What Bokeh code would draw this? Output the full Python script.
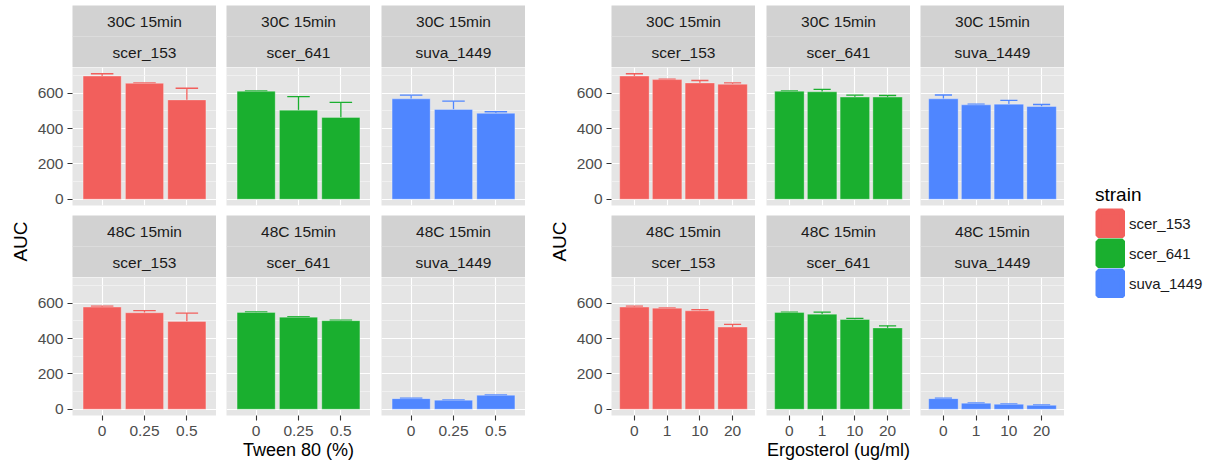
import math
from bokeh.plotting import figure
from bokeh.layouts import row, column
from bokeh.models import (FactorRange, Range1d, FixedTicker, Whisker, TeeHead,
                          ColumnDataSource, Span, Legend, LegendItem)
from bokeh.core.properties import value
from bokeh.embed import file_html
from bokeh.resources import INLINE

# ---------------- data ----------------
strains = ["scer_153", "scer_641", "suva_1449"]
conditions = ["30C 15min", "48C 15min"]
strain_colors = ["#F25F5C", "#1AAF2F", "#4F86FF"]

tween_levels = ["0", "0.25", "0.5"]
ergo_levels = ["0", "1", "10", "20"]

# mean AUC per strain (rows follow `strains`)
tween_30c_mean = [[697, 656, 562], [611, 504, 463], [568, 508, 486]]
tween_30c_se = [[13, 2, 66], [2, 77, 85], [21, 47, 9]]
tween_48c_mean = [[578, 546, 497], [548, 521, 501], [60, 51, 79]]
tween_48c_se = [[6, 12, 47], [3, 3, 3], [2, 2, 2]]

ergo_30c_mean = [[697, 677, 658, 651], [611, 608, 578, 578], [568, 534, 538, 525]]
ergo_30c_se = [[13, 2, 14, 7], [2, 14, 11, 9], [22, 4, 21, 11]]
ergo_48c_mean = [[578, 572, 557, 465], [548, 538, 508, 460], [60, 34, 28, 22]]
ergo_48c_se = [[6, 2, 6, 15], [2, 12, 6, 12], [2, 2, 2, 2]]

tween_title = "Tween 80 (%)"
ergo_title = "Ergosterol (ug/ml)"
y_title = "AUC"
legend_title = "strain"
y_ticks = [0, 200, 400, 600]
y_minor = [100, 300, 500, 700]

# ---------------- style ----------------
FONT = "Liberation Sans"
PANEL_BG = "#E5E5E5"
STRIP_BG = "#D2D2D2"
TICK_COL = "#4D4D4D"
FW, FH = 144, 138
STRIP_H = 62
TOP_PAD = 5
GAP = 10
TXT = "15.5px"

all_upper = []
for M, S in [(tween_30c_mean, tween_30c_se), (tween_48c_mean, tween_48c_se),
             (ergo_30c_mean, ergo_30c_se), (ergo_48c_mean, ergo_48c_se)]:
    for mm, ss in zip(M, S):
        all_upper += [a + b for a, b in zip(mm, ss)]
YMAX = max(all_upper)
Y_LO, Y_HI = -0.05 * YMAX, 1.05 * YMAX


def base_fig(**kw):
    return figure(output_backend="svg", toolbar_location=None, tools="",
                  outline_line_color=None, border_fill_color="white", **kw)


def make_strip(cond, strain, border_left, top_pad):
    s = base_fig(frame_width=FW, frame_height=STRIP_H, x_range=Range1d(0, 1),
                 y_range=Range1d(0, 2), x_axis_location=None, y_axis_location=None,
                 background_fill_color=STRIP_BG, min_border_left=border_left,
                 min_border_right=0, min_border_top=top_pad, min_border_bottom=0)
    s.xgrid.visible = False
    s.ygrid.visible = False
    s.add_layout(Span(location=1, dimension="width", line_color="#DCDCDC", line_width=1))
    s.text(x=[0.5, 0.5], y=[1.5, 0.5], text=[cond, strain], text_align="center",
           text_baseline="middle", text_font=value(FONT), text_font_size=TXT,
           text_color="#1A1A1A")
    return s


def make_panel(levels, means, ses, color, border_left, first_col, bottom_row, xlabel=None):
    p = base_fig(frame_width=FW, frame_height=FH,
                 x_range=FactorRange(factors=levels, range_padding=0.2,
                                     range_padding_units="absolute"),
                 y_range=Range1d(Y_LO, Y_HI),
                 x_axis_location="below" if bottom_row else None,
                 y_axis_location="left" if first_col else None,
                 background_fill_color=PANEL_BG, min_border_left=border_left,
                 min_border_right=0, min_border_top=0,
                 min_border_bottom=0 if bottom_row else GAP)
    p.ygrid.ticker = FixedTicker(ticks=y_ticks, minor_ticks=y_minor)
    p.ygrid.grid_line_color = "white"
    p.ygrid.grid_line_width = 1.1
    p.ygrid.minor_grid_line_color = "#F3F3F3"
    p.ygrid.minor_grid_line_width = 0.8
    p.xgrid.grid_line_color = "white"
    p.xgrid.grid_line_width = 1.1

    src = ColumnDataSource(dict(x=levels, top=means,
                                upper=[m + s for m, s in zip(means, ses)]))
    cap = 0.5 * FW / (len(levels) + 0.2)
    p.add_layout(Whisker(base="x", lower="top", upper="upper", source=src,
                         line_color=color, line_width=1.3, lower_head=None,
                         upper_head=TeeHead(size=cap, line_color=color, line_width=1.3)))
    p.vbar(x="x", top="top", width=0.9, source=src, fill_color=color,
           line_color="white", line_alpha=0.3, line_width=1)

    if first_col:
        ax = p.yaxis[0]
        ax.ticker = FixedTicker(ticks=y_ticks)
        ax.axis_line_color = None
        ax.major_tick_out = 5
        ax.major_tick_in = 0
        ax.major_tick_line_color = "#333333"
        ax.major_tick_line_width = 1.1
        ax.minor_tick_line_color = None
        ax.major_label_standoff = 4
        ax.major_label_text_font = FONT
        ax.major_label_text_font_size = TXT
        ax.major_label_text_color = TICK_COL
    if bottom_row:
        ax = p.xaxis[0]
        ax.axis_line_color = None
        ax.major_tick_out = 5
        ax.major_tick_in = 0
        ax.major_tick_line_color = "#333333"
        ax.major_tick_line_width = 1.1
        ax.major_label_standoff = 5
        ax.major_label_text_font = FONT
        ax.major_label_text_font_size = TXT
        ax.major_label_text_color = TICK_COL
        if xlabel:
            ax.axis_label = xlabel
            ax.axis_label_standoff = 1
            ax.axis_label_text_font = FONT
            ax.axis_label_text_font_size = "18px"
            ax.axis_label_text_font_style = "normal"
            ax.axis_label_text_color = "black"
    return p


TOTAL_H = TOP_PAD + STRIP_H + FH + GAP + STRIP_H + FH


def make_ylab(width, cx):
    f = base_fig(width=width, height=TOTAL_H, x_range=Range1d(0, width),
                 y_range=Range1d(0, TOTAL_H), x_axis_location=None, y_axis_location=None,
                 min_border=0, background_fill_color="white")
    f.xgrid.visible = False
    f.ygrid.visible = False
    f.text(x=[cx], y=[TOTAL_H - 241], text=[y_title], angle=math.pi / 2,
           text_align="center", text_baseline="middle", text_font=value(FONT),
           text_font_size="19px", text_color="black")
    return f


def make_block(levels, m30, s30, m48, s48, xlabel, borders):
    cols = []
    for i, strain in enumerate(strains):
        c = column(
            make_strip(conditions[0], strain, borders[i], TOP_PAD),
            make_panel(levels, m30[i], s30[i], strain_colors[i], borders[i], i == 0, False),
            make_strip(conditions[1], strain, borders[i], 0),
            make_panel(levels, m48[i], s48[i], strain_colors[i], borders[i], i == 0, True,
                       xlabel if i == 1 else None),
        )
        cols.append(c)
    return cols


left_cols = make_block(tween_levels, tween_30c_mean, tween_30c_se, tween_48c_mean,
                       tween_48c_se, tween_title, [40, 10, 11])
right_cols = make_block(ergo_levels, ergo_30c_mean, ergo_30c_se, ergo_48c_mean,
                        ergo_48c_se, ergo_title, [40, 11, 10])

# legend figure
LEG_H = 420
lf = base_fig(width=140, height=LEG_H, x_range=Range1d(0, 1), y_range=Range1d(0, 1),
              x_axis_location=None, y_axis_location=None, min_border=0,
              background_fill_color="white")
lf.xgrid.visible = False
lf.ygrid.visible = False
items = []
for s, c in zip(strains, strain_colors):
    # hidden renderer: it only supplies the legend swatch style
    r = lf.vbar(x=[0.5], top=[1], width=0.9, fill_color=c, line_color=c, line_width=6)
    r.visible = False
    items.append(LegendItem(label=s, renderers=[r]))
leg = Legend(items=items, location=(31, LEG_H - 298), title=legend_title,
             title_text_font=FONT, title_text_font_size="19px", title_text_font_style="normal",
             title_text_color="black", title_standoff=2,
             label_text_font=FONT, label_text_font_size="15px",
             label_text_color="#1A1A1A", glyph_width=30, glyph_height=30, spacing=0,
             label_standoff=4, padding=0, margin=0, border_line_color=None,
             background_fill_alpha=0, inactive_fill_alpha=0)
lf.add_layout(leg)

layout = row(make_ylab(32, 20), *left_cols, make_ylab(46, 34), *right_cols, lf)

open("out.html", "w").write(file_html(layout, INLINE))
